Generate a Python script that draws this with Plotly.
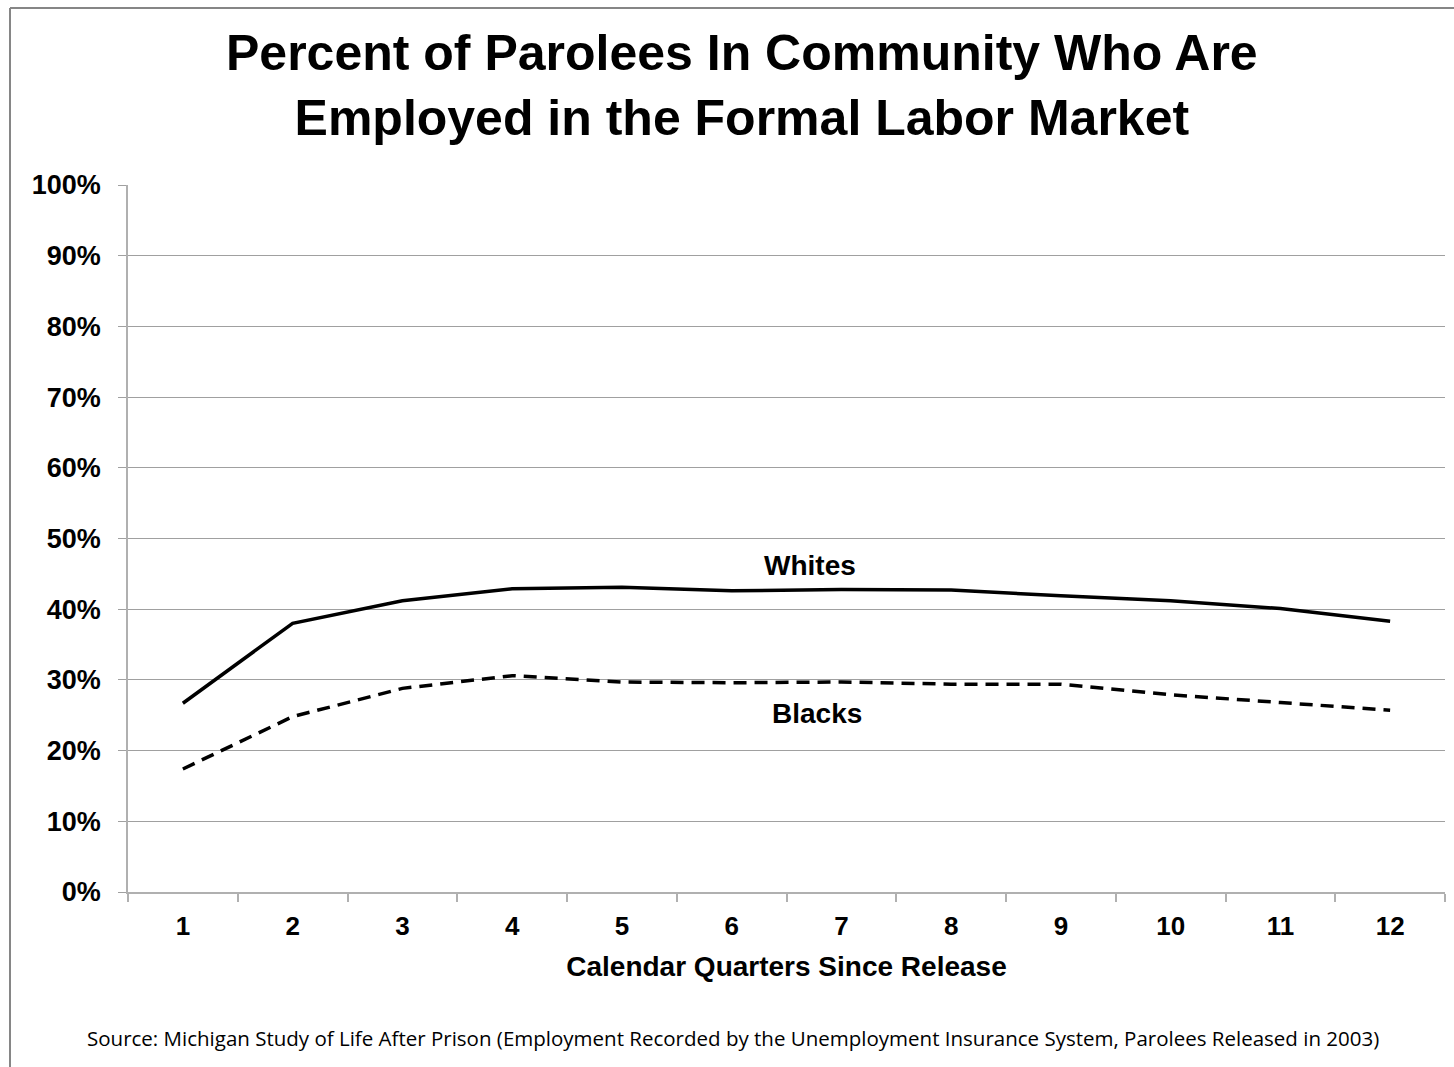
import plotly.graph_objects as go

quarters = ["1", "2", "3", "4", "5", "6", "7", "8", "9", "10", "11", "12"]
whites = [26.7, 38.0, 41.2, 42.9, 43.1, 42.6, 42.8, 42.7, 41.9, 41.2, 40.1, 38.3]
blacks = [17.4, 24.8, 28.8, 30.6, 29.7, 29.6, 29.7, 29.4, 29.4, 27.9, 26.8, 25.7]
y_ticks = [0, 10, 20, 30, 40, 50, 60, 70, 80, 90, 100]
y_labels = [f"{v}%" for v in y_ticks]

TITLE = "Percent of Parolees In Community Who Are<br>Employed in the Formal Labor Market"
XTITLE = "Calendar Quarters Since Release"
SOURCE = ("Source: Michigan Study of Life After Prison (Employment Recorded by the "
          "Unemployment Insurance System, Parolees Released in 2003)")

W, H = 1454, 1067
ML, MR, MT, MB = 128, 9, 185, 175
PW, PH = W - ML - MR, H - MT - MB


def px(x):
    return (x - ML) / PW


def py(y):
    return (H - MB - y) / PH


fig = go.Figure()
fig.add_trace(go.Scatter(x=quarters, y=whites, mode="lines", name="Whites",
                         line=dict(color="black", width=3.5)))
fig.add_trace(go.Scatter(x=quarters, y=blacks, mode="lines", name="Blacks",
                         line=dict(color="black", width=3.5, dash="13px,8px")))

bold = "Liberation Sans"
fig.update_layout(
    width=W, height=H,
    margin=dict(l=ML, r=MR, t=MT, b=MB),
    paper_bgcolor="white", plot_bgcolor="white",
    showlegend=False,
    xaxis=dict(type="category", range=[-0.5, len(quarters) - 0.5],
               tickson="boundaries", ticks="outside",
               ticklen=8, tickcolor="#b0b0b0", tickwidth=1.5,
               showline=True, linecolor="#b0b0b0", linewidth=1.5,
               showgrid=False, ticklabelstandoff=10,
               tickfont=dict(family=bold, size=26, color="black", weight="bold"),
               title=dict(text=XTITLE, standoff=16,
                          font=dict(family=bold, size=28, color="black", weight="bold"))),
    yaxis=dict(range=[0, 100], tickvals=y_ticks, ticktext=y_labels,
               ticks="outside", ticklen=8, tickcolor="#a0a0a0", tickwidth=1.2,
               showline=True, linecolor="#b0b0b0", linewidth=1.5,
               showgrid=True, gridcolor="#a0a0a0", gridwidth=1.2,
               zeroline=False, ticklabelstandoff=12,
               tickfont=dict(family=bold, size=27, color="black", weight="bold")),
    font=dict(family=bold, color="black"),
)

fig.add_annotation(text=TITLE, xref="paper", yref="paper",
                   x=px(742), y=py(85), xanchor="center", yanchor="middle",
                   showarrow=False,
                   font=dict(family=bold, size=50, color="black", weight="bold"))
fig.add_annotation(text="Whites", xref="paper", yref="paper",
                   x=px(810), y=py(565), xanchor="center", yanchor="middle",
                   showarrow=False,
                   font=dict(family=bold, size=28, color="black", weight="bold"))
fig.add_annotation(text="Blacks", xref="paper", yref="paper",
                   x=px(817), y=py(713), xanchor="center", yanchor="middle",
                   showarrow=False,
                   font=dict(family=bold, size=28, color="black", weight="bold"))
fig.add_annotation(text=SOURCE, xref="paper", yref="paper",
                   x=px(733), y=py(1038), xanchor="center", yanchor="middle",
                   showarrow=False,
                   font=dict(family="Open Sans", size=20.5, color="black"))

# outer chart frame (left and top edges visible)
frame = dict(color="#868686", width=2)
fig.add_shape(type="line", xref="paper", yref="paper",
              x0=px(10), y0=py(8), x1=px(W + 5), y1=py(8), line=frame)
fig.add_shape(type="line", xref="paper", yref="paper",
              x0=px(10), y0=py(8), x1=px(10), y1=py(H + 5), line=frame)

fig.write_html("out.html")
